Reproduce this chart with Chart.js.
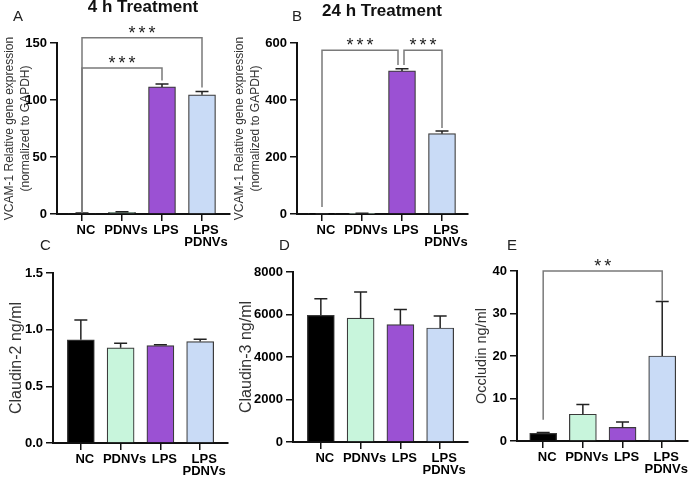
<!DOCTYPE html>
<html>
<head>
<meta charset="utf-8">
<script src="https://cdn.jsdelivr.net/npm/chart.js@4.4.1/dist/chart.umd.min.js"></script>
<style>
  body { margin: 0; background: #fff; }
  #fig { position: relative; width: 699px; height: 482px; overflow: hidden; font-family: "Liberation Sans", Arial, sans-serif; }
  #fig canvas { position: absolute; }
  .lbl { position: absolute; font-size: 15px; line-height: 15px; color: #222; white-space: nowrap; }
  .ttl { position: absolute; font-size: 17px; line-height: 17px; font-weight: bold; color: #111; text-align: center; width: 200px; white-space: nowrap; }
</style>
</head>
<body>
<div id="fig">
  <canvas id="panelA" width="240" height="262" style="left:0px;top:0px"></canvas>
  <canvas id="panelB" width="250" height="262" style="left:230px;top:0px"></canvas>
  <canvas id="panelC" width="240" height="252" style="left:0px;top:230px"></canvas>
  <canvas id="panelD" width="250" height="252" style="left:230px;top:230px"></canvas>
  <canvas id="panelE" width="234" height="252" style="left:465px;top:230px"></canvas>
  <div class="lbl" style="left:13px;top:8px">A</div>
  <div class="lbl" style="left:292px;top:8px">B</div>
  <div class="lbl" style="left:40px;top:237px">C</div>
  <div class="lbl" style="left:279px;top:237px">D</div>
  <div class="lbl" style="left:507px;top:237px">E</div>
  <div class="ttl" style="left:43px;top:-2px">4 h Treatment</div>
  <div class="ttl" style="left:282px;top:2px">24 h Treatment</div>
</div>
<script>
// groups (last one is a two-line label)
const groups = ['NC', 'PDNVs', 'LPS', ['LPS', 'PDNVs']];
const groupColors = ['#000000', '#c8f5dc', '#9b51d3', '#c9dbf6'];

// A - VCAM-1, 4 h
const vcam4hMean = [0.5, 1.5, 111.5, 104.5];
const vcam4hErr = [0.3, 0.4, 2.5, 3];
const vcam4hTicks = [0, 50, 100, 150];
const vcam4hSig = [
    { from: 0, to: 3, level: 154.5, legFrom: 1, legTo: 111, label: '***' },
    { from: 0, to: 2, level: 128, legFrom: 1, legTo: 117, label: '***' }
];

// B - VCAM-1, 24 h
const vcam24hMean = [0.5, 2, 502, 282];
const vcam24hErr = [0.3, 0.5, 8, 9];
const vcam24hTicks = [0, 200, 400, 600];
const vcam24hSig = [
    { from: 0, to: 1.9, level: 575, legFrom: 25, legTo: 523, label: '***' },
    { from: 2.05, to: 3, level: 575, legFrom: 523, legTo: 302, label: '***' }
];

// C - Claudin-2
const claudin2Mean = [0.91, 0.84, 0.86, 0.895];
const claudin2Err = [0.175, 0.04, 0.008, 0.02];
const claudin2Ticks = [0, 0.5, 1.0, 1.5];

// D - Claudin-3
const claudin3Mean = [5960, 5835, 5520, 5365];
const claudin3Err = [785, 1225, 720, 565];
const claudin3Ticks = [0, 2000, 4000, 6000, 8000];

// E - Occludin
const occludinMean = [1.8, 6.3, 3.2, 20.0];
const occludinErr = [0.2, 2.3, 1.3, 12.8];
const occludinTicks = [0, 10, 20, 30, 40];
const occludinSig = [
    { from: 0, to: 3, level: 40, legFrom: 5, legTo: 33, label: '**' }
];

Chart.defaults.font.family = '"Liberation Sans", Arial, sans-serif';
Chart.defaults.animation = false;

const errorBars = {
    id: 'errorBars',
    afterDatasetsDraw(chart) {
        const ds = chart.data.datasets[0];
        const meta = chart.getDatasetMeta(0);
        const y = chart.scales.y;
        const ctx = chart.ctx;
        ctx.save();
        ctx.strokeStyle = '#222';
        ctx.lineWidth = 1.5;
        ds.errors.forEach((e, i) => {
            const bar = meta.data[i];
            const top = y.getPixelForValue(ds.data[i].y + e);
            ctx.beginPath();
            ctx.moveTo(bar.x, bar.y);
            ctx.lineTo(bar.x, top);
            ctx.moveTo(bar.x - 6.5, top);
            ctx.lineTo(bar.x + 6.5, top);
            ctx.stroke();
        });
        ctx.restore();
    }
};

function bracketPlugin(sig) {
    return {
        id: 'brackets',
        afterDraw(chart) {
            const x = chart.scales.x, y = chart.scales.y, ctx = chart.ctx;
            ctx.save();
            sig.forEach(s => {
                const xa = x.getPixelForValue(s.from);
                const xb = x.getPixelForValue(s.to);
                const yl = y.getPixelForValue(s.level);
                ctx.strokeStyle = '#7a7a7a';
                ctx.lineWidth = 1.5;
                ctx.beginPath();
                ctx.moveTo(xa, y.getPixelForValue(s.legFrom));
                ctx.lineTo(xa, yl);
                ctx.lineTo(xb, yl);
                ctx.lineTo(xb, y.getPixelForValue(s.legTo));
                ctx.stroke();
                ctx.fillStyle = '#222';
                ctx.font = '18px "Liberation Sans", Arial, sans-serif';
                ctx.textAlign = 'center';
                ctx.textBaseline = 'alphabetic';
                ctx.letterSpacing = '3px';
                ctx.fillText(s.label, (xa + xb) / 2 + 1.5, yl + 1);
            });
            ctx.restore();
        }
    };
}

function makePanel(id, means, errs, yTicks, yTitle, sig, geom, fmt) {
    const ctx = document.getElementById(id);
    return new Chart(ctx, {
        type: 'bar',
        data: {
            datasets: [{
                data: means.map((m, i) => ({ x: i, y: m })),
                errors: errs,
                backgroundColor: groupColors,
                borderColor: '#3a3a3a',
                borderWidth: 1.2,
                barThickness: 27
            }]
        },
        options: {
            responsive: false,
            layout: { padding: { left: 0, right: geom.R, top: geom.T, bottom: 0 } },
            plugins: { legend: { display: false }, tooltip: { enabled: false } },
            scales: {
                x: {
                    type: 'linear',
                    offset: false,
                    min: geom.xmin,
                    max: geom.xmax,
                    afterBuildTicks: s => { s.ticks = groups.map((g, i) => ({ value: i })); },
                    afterFit: s => { s.height = geom.B; s.paddingLeft = 0; s.paddingRight = 0; },
                    grid: { offset: false, drawOnChartArea: false, tickLength: 7, color: '#111', lineWidth: 1.5 },
                    border: { color: '#111', width: 2 },
                    ticks: {
                        autoSkip: false, maxRotation: 0, minRotation: 0,
                        labelOffset: 4, padding: 3, color: '#000',
                        font: { size: 13, weight: 'bold', lineHeight: 0.95 },
                        callback: v => groups[v]
                    }
                },
                y: {
                    type: 'linear',
                    min: yTicks[0],
                    max: yTicks[yTicks.length - 1],
                    afterBuildTicks: s => { s.ticks = yTicks.map(v => ({ value: v })); },
                    afterFit: s => { s.width = geom.L; s.paddingTop = 0; s.paddingBottom = 0; },
                    grid: { drawOnChartArea: false, tickLength: 7, color: '#111', lineWidth: 1.5 },
                    border: { color: '#111', width: 2 },
                    ticks: {
                        padding: 3, color: '#000',
                        font: { size: 13, weight: 'bold' },
                        callback: fmt || (v => String(v))
                    },
                    title: {
                        display: true, text: yTitle, color: '#333',
                        font: { size: geom.titleSize, lineHeight: geom.titleLH },
                        padding: { top: geom.titlePad, bottom: 0 }
                    }
                }
            }
        },
        plugins: [errorBars, bracketPlugin(sig)]
    });
}

const vcamTitle = ['VCAM-1 Relative gene expression', '(normalized to GAPDH)'];

makePanel('panelA', vcam4hMean, vcam4hErr, vcam4hTicks, vcamTitle, vcam4hSig,
    { L: 57, R: 10, T: 43, B: 48, xmin: -0.625, xmax: 3.7, titleSize: 12, titleLH: 1.333, titlePad: 2 });
makePanel('panelB', vcam24hMean, vcam24hErr, vcam24hTicks, vcamTitle, vcam24hSig,
    { L: 67, R: 12, T: 43, B: 48, xmin: -0.625, xmax: 3.65, titleSize: 12, titleLH: 1.333, titlePad: 2 });
makePanel('panelC', claudin2Mean, claudin2Err, claudin2Ticks, 'Claudin-2 ng/ml', [],
    { L: 53, R: 12, T: 43, B: 39, xmin: -0.7, xmax: 3.7, titleSize: 16, titleLH: 1.2, titlePad: 7.4 }, v => v.toFixed(1));
makePanel('panelD', claudin3Mean, claudin3Err, claudin3Ticks, 'Claudin-3 ng/ml', [],
    { L: 63, R: 12, T: 42, B: 40, xmin: -0.7, xmax: 3.7, titleSize: 16, titleLH: 1.2, titlePad: 7.4 });
makePanel('panelE', occludinMean, occludinErr, occludinTicks, 'Occludin ng/ml', occludinSig,
    { L: 52, R: 11, T: 41, B: 41, xmin: -0.66, xmax: 3.65, titleSize: 14.5, titleLH: 1.2, titlePad: 8.3 });
</script>
</body>
</html>
